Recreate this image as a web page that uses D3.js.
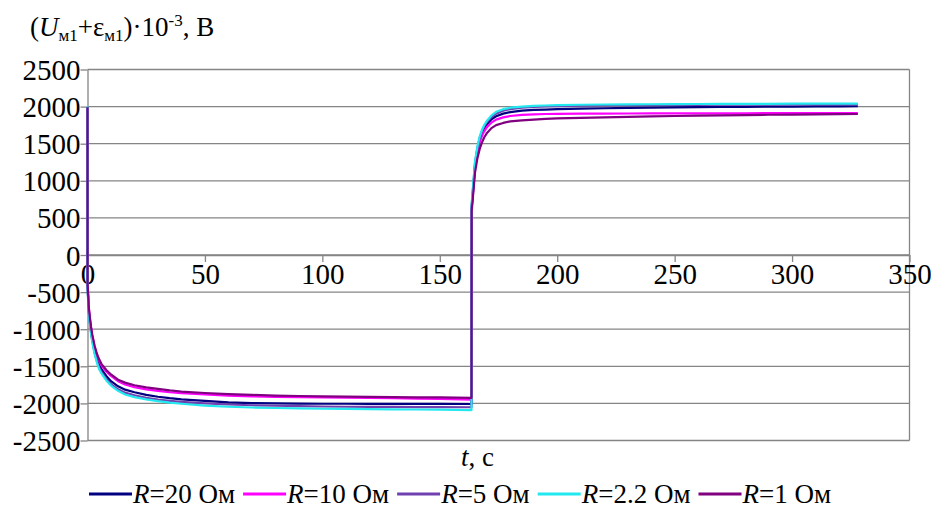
<!DOCTYPE html>
<meta charset="utf-8">
<style>
body { margin: 0; background: #fff; }
svg, text { font-family: "Liberation Serif", "Times New Roman", serif; fill: #000; }
.grid line { stroke: #858585; stroke-width: 1.3px; }
.axis path, .axis line { stroke: #858585; stroke-width: 1.3px; }
.series { fill: none; stroke-width: 2.2px; stroke-linejoin: round; }
</style>
<body>
<script src="https://d3js.org/d3.v7.min.js"></script>
<script>
var W = 931, H = 514;

// time, s
var time = [0, 0.05, 0.5, 1, 1.5, 2, 3, 4, 5, 6, 8, 10, 13, 16, 20, 25, 30, 35, 40, 50,
  60, 70, 80, 90, 100, 110, 120, 130, 140, 150, 163.5,
  163.6, 164, 164.5, 165, 166, 167, 168, 169, 170, 172, 174, 177, 180, 185, 190, 195, 200,
  210, 220, 230, 240, 250, 260, 270, 280, 290, 300, 310, 320, 328];

// (U + e) * 10^-3, V
var r20 = [1990, -420, -740, -890, -1020, -1130, -1290, -1400, -1480, -1540, -1630, -1700, -1770, -1815, -1850, -1885, -1910, -1930, -1945, -1965,
  -1985, -1995, -2000, -2003, -2005, -2005, -2006, -2006, -2007, -2007, -2008,
  650, 800, 1000, 1200, 1420, 1560, 1650, 1710, 1760, 1830, 1870, 1905, 1925, 1945, 1955, 1960, 1965,
  1972, 1978, 1983, 1987, 1990, 1993, 1995, 1997, 1999, 2000, 2002, 2003, 2005];
var r10 = [1980, -400, -700, -850, -980, -1080, -1240, -1350, -1430, -1490, -1570, -1630, -1700, -1745, -1780, -1810, -1830, -1850, -1862, -1880,
  -1895, -1905, -1912, -1917, -1920, -1923, -1925, -1930, -1935, -1940, -1950,
  630, 780, 980, 1180, 1390, 1520, 1610, 1670, 1720, 1785, 1825, 1855, 1873, 1888, 1895, 1900, 1903,
  1905, 1906, 1907, 1908, 1908, 1909, 1910, 1910, 1911, 1911, 1912, 1912, 1912];
var r5 = [1990, -430, -760, -910, -1040, -1150, -1310, -1430, -1520, -1580, -1670, -1740, -1810, -1855, -1890, -1925, -1950, -1965, -1980, -2000,
  -2015, -2025, -2032, -2038, -2042, -2045, -2047, -2048, -2050, -2050, -2052,
  680, 840, 1040, 1240, 1440, 1580, 1670, 1740, 1790, 1860, 1905, 1945, 1965, 1985, 1995, 2002, 2007,
  2012, 2016, 2019, 2021, 2023, 2024, 2025, 2026, 2027, 2028, 2029, 2030, 2030];
var r22 = [2000, -450, -780, -930, -1060, -1170, -1330, -1450, -1540, -1600, -1690, -1760, -1830, -1880, -1915, -1945, -1970, -1990, -2005, -2030,
  -2045, -2055, -2062, -2068, -2072, -2075, -2078, -2080, -2082, -2085, -2090,
  700, 860, 1060, 1260, 1460, 1600, 1690, 1755, 1805, 1880, 1930, 1965, 1985, 2000, 2010, 2015, 2020,
  2025, 2028, 2030, 2032, 2034, 2035, 2036, 2037, 2038, 2039, 2040, 2040, 2041];
var r1 = [1990, -380, -690, -840, -970, -1070, -1220, -1330, -1410, -1470, -1550, -1610, -1680, -1720, -1755, -1785, -1805, -1825, -1840, -1860,
  -1875, -1885, -1895, -1900, -1905, -1910, -1912, -1915, -1918, -1920, -1925,
  600, 740, 930, 1110, 1300, 1430, 1520, 1590, 1640, 1710, 1750, 1780, 1800, 1815, 1825, 1835, 1840,
  1848, 1855, 1862, 1868, 1873, 1878, 1882, 1886, 1890, 1893, 1896, 1898, 1900];

var seriesValues = [r20, r10, r5, r22, r1];
var seriesR = ["20", "10", "5", "2.2", "1"];
var seriesColors = ["#000080", "#ff00ff", "#7040b0", "#22e8f0", "#800080"];

var xTicks = [0, 50, 100, 150, 200, 250, 300, 350];
var yTicks = [-2500, -2000, -1500, -1000, -500, 0, 500, 1000, 1500, 2000, 2500];

var x = d3.scaleLinear().domain([0, 350]).range([87.5, 909.5]);
var y = d3.scaleLinear().domain([-2500, 2500]).range([440.5, 69.5]);

var svg = d3.select("body").append("svg")
    .attr("width", W)
    .attr("height", H);

// horizontal grid lines
svg.append("g")
    .attr("class", "grid")
  .selectAll("line")
  .data(yTicks)
  .enter().append("line")
    .attr("x1", x(0))
    .attr("x2", x(350))
    .attr("y1", function(d) { return y(d); })
    .attr("y2", function(d) { return y(d); });

// right border
svg.append("g")
    .attr("class", "grid")
  .append("line")
    .attr("x1", x(350)).attr("x2", x(350))
    .attr("y1", y(2500)).attr("y2", y(-2500));

// y axis
var yAxis = svg.append("g")
    .attr("class", "axis")
    .attr("transform", "translate(" + x(0) + ",0)")
    .call(d3.axisLeft(y).tickValues(yTicks).tickSize(7).tickSizeOuter(0)
      .tickFormat(function(d) { return String(d); }));
yAxis.attr("font-family", null).attr("font-size", null);
yAxis.selectAll("text")
    .attr("x", -7).attr("dy", 10)
    .attr("text-anchor", "end")
    .style("font-size", "29px");

// x axis at zero
var xAxis = svg.append("g")
    .attr("class", "axis")
    .attr("transform", "translate(0," + y(0) + ")")
    .call(d3.axisBottom(x).tickValues(xTicks).tickSize(7).tickSizeOuter(0)
      .tickFormat(function(d) { return String(d); }));
xAxis.attr("font-family", null).attr("font-size", null);
xAxis.selectAll("text")
    .attr("y", 29).attr("dy", null)
    .attr("text-anchor", "middle")
    .style("font-size", "29px");

// curves
var line = d3.line()
    .x(function(d, i) { return x(time[i]); })
    .y(function(d) { return y(d); });

svg.append("g")
  .selectAll("path")
  .data(seriesValues)
  .enter().append("path")
    .attr("class", "series")
    .attr("stroke", function(d, i) { return seriesColors[i]; })
    .attr("d", line);

// axis titles
var title = svg.append("text")
    .attr("x", 30).attr("y", 36)
    .style("font-size", "27px");
title.append("tspan").text("(");
title.append("tspan").style("font-style", "italic").text("U");
title.append("tspan").attr("dy", 5).style("font-size", "17px").text("м1");
title.append("tspan").attr("dy", -5).text("+ε");
title.append("tspan").attr("dy", 5).style("font-size", "17px").text("м1");
title.append("tspan").attr("dy", -5).text(")·10");
title.append("tspan").attr("dy", -10).style("font-size", "17px").text("-3");
title.append("tspan").attr("dy", 10).text(", В");

var xTitle = svg.append("text")
    .attr("x", 461).attr("y", 466)
    .style("font-size", "27px");
xTitle.append("tspan").style("font-style", "italic").text("t");
xTitle.append("tspan").text(", с");

// legend
var lx = 89;
seriesR.forEach(function(r, i) {
  var g = svg.append("g");
  g.append("line")
      .attr("x1", lx).attr("x2", lx + 43)
      .attr("y1", 494).attr("y2", 494)
      .attr("stroke", seriesColors[i])
      .attr("stroke-width", 3);
  var t = g.append("text")
      .attr("x", lx + 44).attr("y", 503)
      .style("font-size", "27px");
  t.append("tspan").style("font-style", "italic").text("R");
  t.append("tspan").text("=" + r + " Ом");
  lx += 44 + t.node().getComputedTextLength() + 8;
});
</script>
</body>
